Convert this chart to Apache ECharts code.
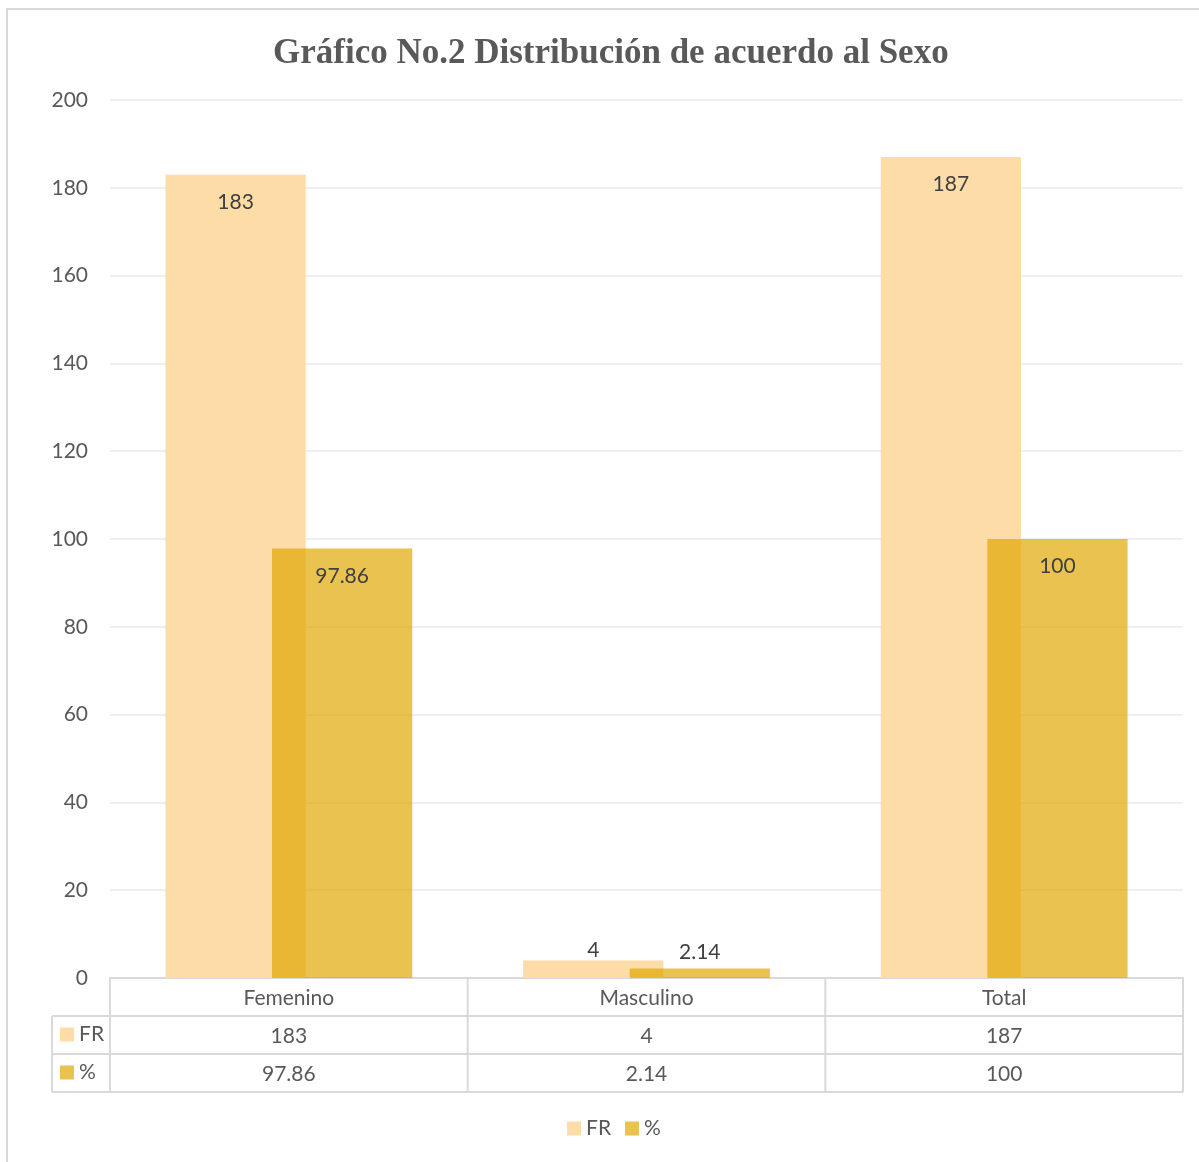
<!DOCTYPE html>
<html>
<head>
<meta charset="utf-8">
<title>Gráfico No.2 Distribución de acuerdo al Sexo</title>
<script src="https://cdn.jsdelivr.net/npm/echarts@6/dist/echarts.min.js"></script>
<style>
  html, body { margin: 0; padding: 0; background: #ffffff; }
  #chart { width: 1199px; height: 1162px; }
</style>
</head>
<body>
<div id="chart"></div>
<script>
// Data
const categories = ['Femenino', 'Masculino', 'Total'];
const frValues = [183, 4, 187];
const pctValues = [97.86, 2.14, 100];
const seriesNames = ['FR', '%'];
const titleText = 'Gráfico No.2 Distribución de acuerdo al Sexo';

// Styling
const FONT = 'Lato, "Noto Sans", sans-serif';
const TEXT = '#595959';
const LABEL = '#404040';
const LINE = '#d9d9d9';
const FR_COLOR = '#fedca7';
const PCT_COLOR = 'rgba(223,167,0,0.69)';

// Plot area
const gridLeft = 110, gridRight = 16, gridTop = 100, gridBottom = 184;
const W = 1199, H = 1162;
const plotRight = W - gridRight;
const axisY = H - gridBottom;
const rowH = 38;
const colW = (plotRight - gridLeft) / categories.length;

// Labels: inside the top for tall bars, above for short bars
function barData(values, smallDistances) {
  return values.map((v, i) => {
    if (v < 20) {
      return { value: v, label: { position: 'top', distance: smallDistances } };
    }
    return v;
  });
}

// Table borders under the plot
const tableLines = [];
function hLine(x1, x2, y) {
  tableLines.push({ type: 'line', shape: { x1, y1: y, x2, y2: y }, style: { stroke: LINE, lineWidth: 2 }, silent: true });
}
function vLine(x, y1, y2) {
  tableLines.push({ type: 'line', shape: { x1: x, y1, x2: x, y2 }, style: { stroke: LINE, lineWidth: 2 }, silent: true });
}
hLine(gridLeft, plotRight, axisY + rowH);
hLine(52, plotRight, axisY + rowH);
hLine(52, plotRight, axisY + rowH * 2);
hLine(52, plotRight, axisY + rowH * 3);
vLine(52, axisY + rowH, axisY + rowH * 3);
for (let i = 0; i <= categories.length; i++) {
  vLine(gridLeft + colW * i, axisY, axisY + rowH * 3);
}

function tableAxis(data, offset) {
  return {
    type: 'category',
    gridIndex: 0,
    position: 'bottom',
    offset: offset,
    data: data,
    axisLine: { show: false },
    axisTick: { show: false },
    axisLabel: { color: TEXT, fontFamily: FONT, fontSize: 21, margin: 10 }
  };
}

const legendText = { color: TEXT, fontFamily: FONT, fontSize: 21 };

const chart = echarts.init(document.getElementById('chart'), null, { renderer: 'canvas' });
chart.setOption({
  backgroundColor: '#ffffff',
  animation: false,
  title: {
    text: titleText,
    left: 268,
    top: 31,
    textStyle: {
      fontFamily: '"Liberation Serif", "Times New Roman", serif',
      fontWeight: 'bold',
      fontSize: 35,
      color: TEXT
    }
  },
  legend: [
    {
      orient: 'vertical',
      left: 60,
      top: axisY + rowH + 8,
      padding: 0,
      itemWidth: 14,
      itemHeight: 14,
      itemGap: 17,
      icon: 'rect',
      textStyle: legendText,
      data: seriesNames
    },
    {
      orient: 'horizontal',
      left: 567,
      top: 1118,
      padding: 0,
      itemWidth: 14,
      itemHeight: 14,
      itemGap: 14,
      icon: 'rect',
      textStyle: legendText,
      data: seriesNames
    }
  ],
  grid: { left: gridLeft, right: gridRight, top: gridTop, bottom: gridBottom, containLabel: false },
  xAxis: [
    {
      type: 'category',
      data: categories,
      axisLine: { show: true, lineStyle: { color: LINE, width: 2 } },
      axisTick: { show: false },
      axisLabel: { color: TEXT, fontFamily: FONT, fontSize: 21, margin: 10 }
    },
    tableAxis(frValues.map(String), rowH),
    tableAxis(pctValues.map(String), rowH * 2)
  ],
  yAxis: {
    type: 'value',
    min: 0,
    max: 200,
    interval: 20,
    axisLine: { show: false },
    axisTick: { show: false },
    axisLabel: { color: TEXT, fontFamily: FONT, fontSize: 21, margin: 22 },
    splitLine: { lineStyle: { color: '#efefef', width: 2 } }
  },
  series: [
    {
      name: seriesNames[0],
      type: 'bar',
      xAxisIndex: 0,
      data: barData(frValues, 0),
      barGap: '-24%',
      barCategoryGap: '31%',
      itemStyle: { color: FR_COLOR },
      label: {
        show: true,
        position: 'insideTop',
        distance: 17,
        color: LABEL,
        fontFamily: FONT,
        fontSize: 21
      }
    },
    {
      name: seriesNames[1],
      type: 'bar',
      xAxisIndex: 0,
      data: barData(pctValues, 6),
      barGap: '-24%',
      barCategoryGap: '31%',
      itemStyle: { color: PCT_COLOR },
      label: {
        show: true,
        position: 'insideTop',
        distance: 17,
        color: LABEL,
        fontFamily: FONT,
        fontSize: 21
      }
    }
  ],
  graphic: [
    {
      type: 'rect',
      shape: { x: 7, y: 9, width: 1300, height: 1300 },
      style: { fill: 'none', stroke: '#d9d9d9', lineWidth: 2 },
      silent: true,
      z: -1
    }
  ].concat(tableLines)
});
</script>
</body>
</html>
